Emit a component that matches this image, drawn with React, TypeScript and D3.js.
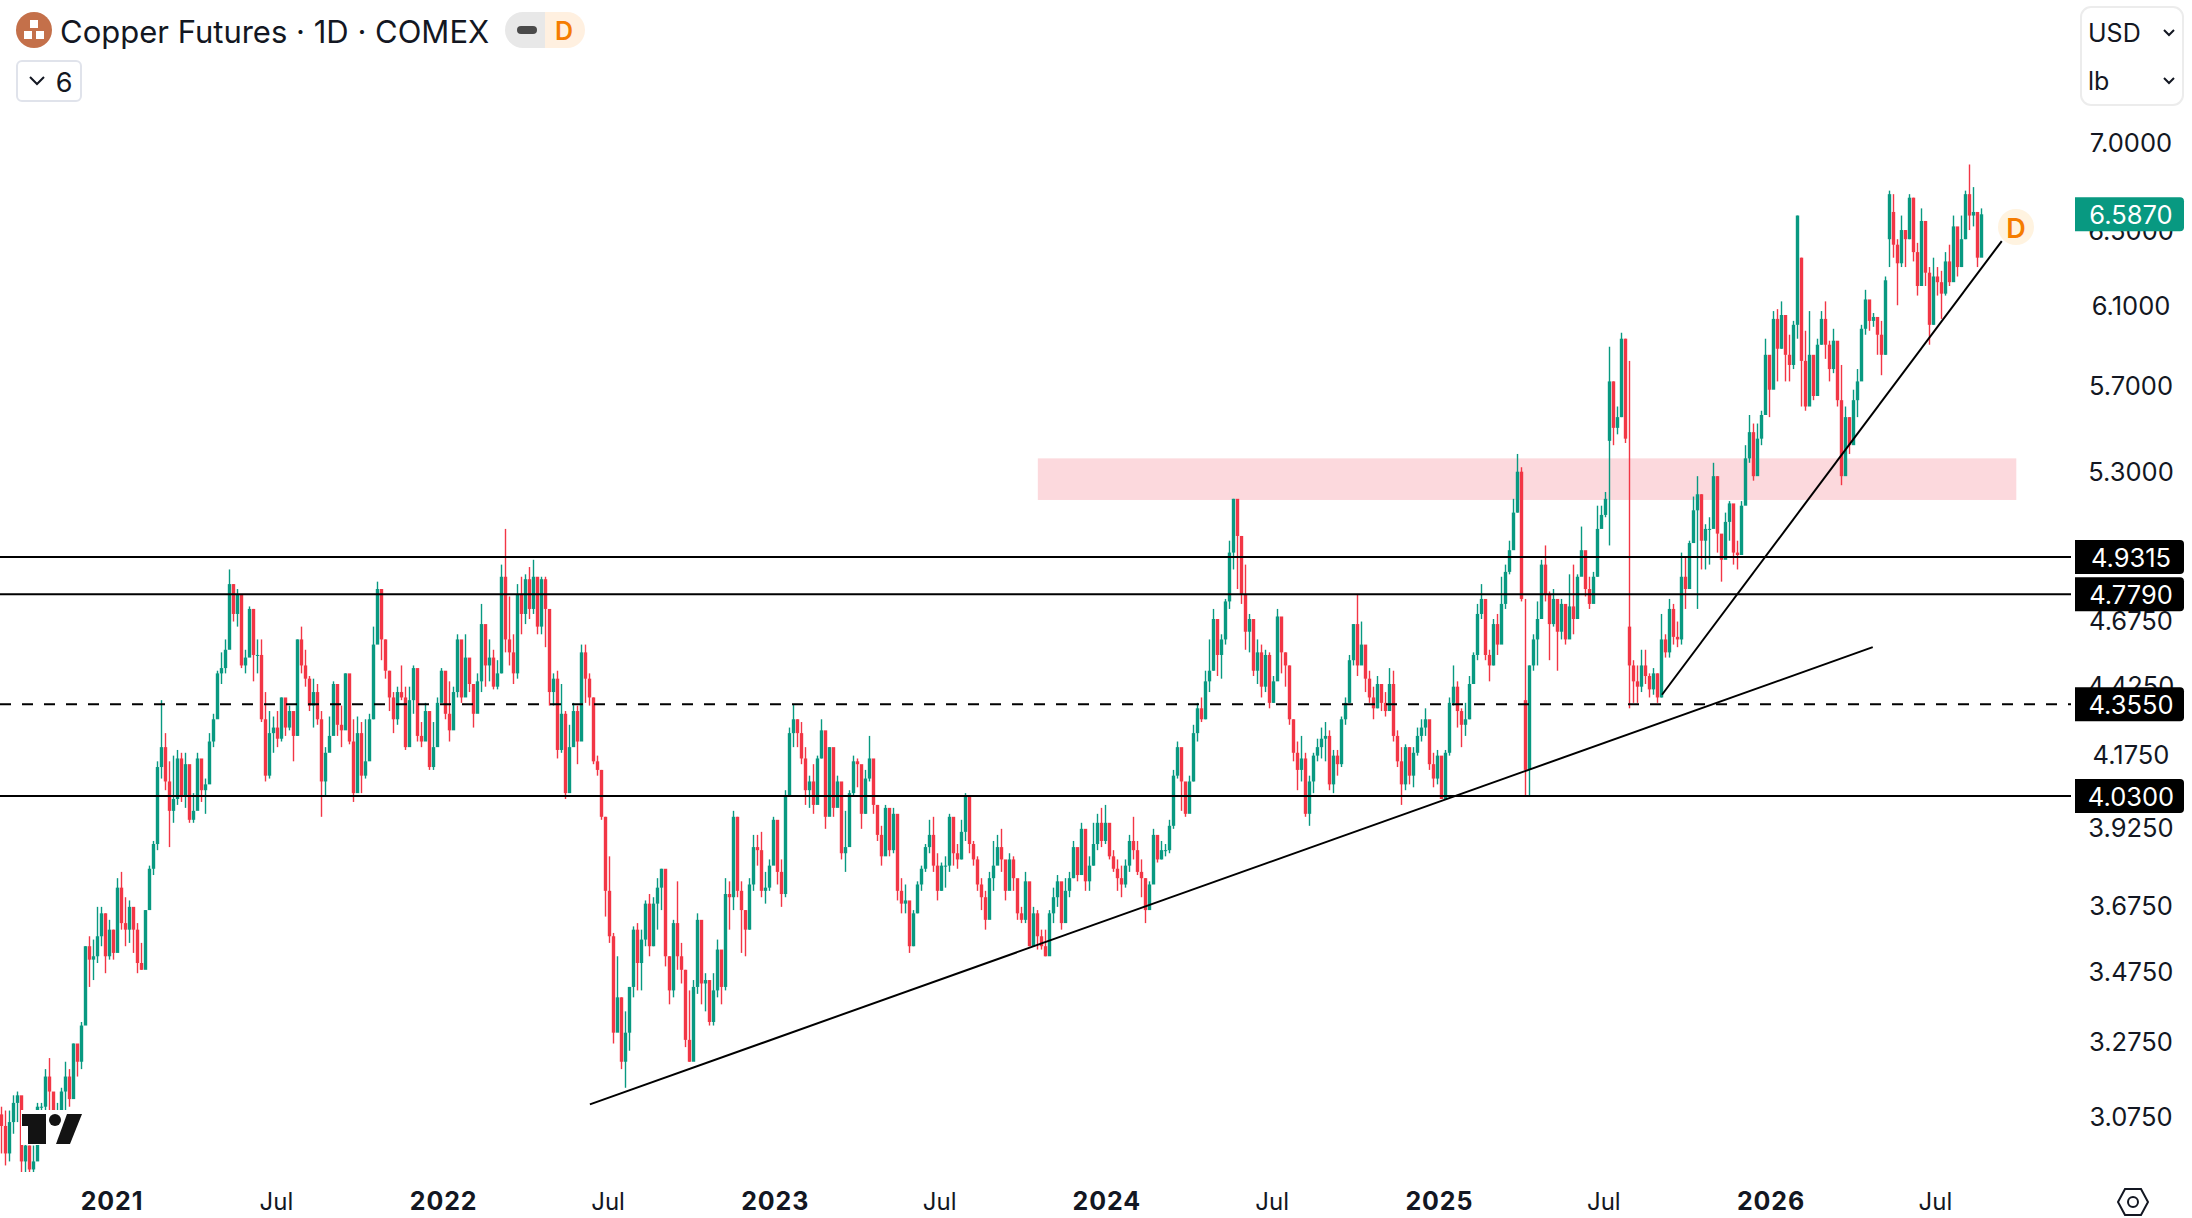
import React from "react";
import * as d3 from "d3";

const closes = [
  3.05,2.98,3.06,3.11,3.13,2.96,3.0,2.94,2.96,3.1,
  3.1,3.18,3.14,3.09,3.09,3.14,3.18,3.12,3.27,3.22,
  3.32,3.55,3.51,3.52,3.58,3.65,3.52,3.6,3.53,3.73,
  3.62,3.6,3.67,3.6,3.5,3.48,3.66,3.79,3.87,4.13,
  4.2,4.08,3.98,4.02,4.16,4.03,4.14,3.95,3.98,4.16,
  4.05,4.07,4.22,4.3,4.47,4.49,4.56,4.82,4.7,4.78,
  4.5,4.53,4.72,4.54,4.54,4.3,4.1,4.25,4.27,4.23,
  4.38,4.27,4.33,4.24,4.6,4.5,4.45,4.35,4.4,4.3,
  4.08,4.18,4.24,4.43,4.28,4.26,4.47,4.22,4.04,4.25,
  4.1,4.15,4.3,4.58,4.8,4.6,4.48,4.38,4.3,4.4,

  4.38,4.2,4.37,4.49,4.24,4.22,4.33,4.13,4.2,4.36,
  4.48,4.32,4.26,4.4,4.6,4.38,4.53,4.43,4.32,4.44,
  4.66,4.5,4.53,4.42,4.47,4.85,4.6,4.55,4.47,4.78,
  4.7,4.84,4.72,4.85,4.65,4.84,4.72,4.4,4.45,4.19,
  4.32,4.04,4.2,4.33,4.22,4.55,4.45,4.38,4.15,4.12,
  3.96,3.72,3.58,3.3,3.4,3.22,3.3,3.43,3.6,3.5,
  3.57,3.68,3.55,3.68,3.73,3.79,3.52,3.42,3.62,3.52,
  3.48,3.28,3.22,3.43,3.63,3.44,3.45,3.33,3.42,3.54,
  3.43,3.71,3.7,3.96,3.72,3.66,3.6,3.74,3.86,3.85,
  3.72,3.73,3.8,3.95,3.78,3.71,4.03,4.25,4.3,4.25,

  4.16,4.05,4.08,4.0,4.16,4.26,3.96,4.2,3.99,4.08,
  3.84,3.86,4.04,4.15,4.14,3.97,4.09,4.16,4.0,3.9,
  3.83,3.99,3.85,3.97,3.72,3.68,3.69,3.55,3.65,3.74,
  3.79,3.86,3.9,3.8,3.72,3.8,3.8,3.96,3.84,3.82,
  3.91,4.03,3.87,3.82,3.74,3.7,3.63,3.76,3.8,3.86,
  3.82,3.72,3.82,3.76,3.65,3.63,3.75,3.55,3.65,3.58,
  3.55,3.52,3.65,3.7,3.75,3.62,3.72,3.76,3.86,3.77,
  3.92,3.75,3.8,3.87,3.94,3.88,3.94,3.83,3.79,3.76,
  3.74,3.8,3.88,3.85,3.78,3.76,3.66,3.74,3.9,3.82,
  3.85,3.85,3.93,4.1,4.2,4.08,3.97,4.08,4.25,4.34,

  4.3,4.44,4.48,4.68,4.54,4.6,4.75,4.95,5.18,5.02,
  4.78,4.63,4.68,4.48,4.55,4.42,4.54,4.36,4.44,4.69,
  4.55,4.5,4.3,4.18,4.12,4.16,3.97,4.08,4.17,4.2,
  4.23,4.24,4.07,4.17,4.14,4.3,4.36,4.52,4.66,4.5,
  4.58,4.45,4.38,4.34,4.43,4.36,4.33,4.43,4.24,4.15,
  4.07,4.2,4.1,4.18,4.24,4.27,4.3,4.14,4.09,4.17,
  4.02,4.18,4.36,4.42,4.33,4.28,4.3,4.43,4.54,4.7,
  4.76,4.54,4.5,4.66,4.58,4.74,4.87,4.96,5.12,5.3,
  4.76,4.12,4.5,4.6,4.68,4.9,4.78,4.66,4.76,4.63,
  4.74,4.6,4.73,4.68,4.85,4.96,4.8,4.74,4.85,5.05,

  5.11,5.18,5.72,5.5,5.55,5.93,5.45,4.5,4.44,4.42,
  4.5,4.46,4.41,4.47,4.38,4.6,4.55,4.72,4.61,4.6,
  4.85,4.8,4.99,5.13,5.2,5.0,5.05,5.05,5.28,5.03,
  4.92,5.08,5.16,4.95,4.94,5.15,5.36,5.48,5.28,5.45,
  5.56,5.85,5.68,6.03,5.88,6.05,5.85,5.8,6.0,6.58,
  5.82,5.6,5.85,5.65,5.9,6.03,5.9,5.78,5.92,5.63,
  5.28,5.55,5.42,5.63,5.72,5.98,6.13,6.02,6.04,5.95,
  5.85,6.23,6.7,6.42,6.32,6.5,6.45,6.68,6.38,6.2,
  6.55,6.27,6.0,6.25,6.22,6.16,6.33,6.22,6.52,6.3,
  6.45,6.7,6.58,6.6,6.35,6.587,
];

const highs = [
  3.1,3.09,3.09,3.13,3.14,3.05,3.04,3.0,3.0,3.11,
  3.11,3.2,3.23,3.13,3.11,3.15,3.22,3.2,3.27,3.24,
  3.33,3.55,3.58,3.57,3.67,3.67,3.65,3.63,3.6,3.76,
  3.78,3.7,3.69,3.66,3.62,3.56,3.66,3.8,3.88,4.15,
  4.37,4.25,4.15,4.17,4.19,4.18,4.18,4.05,4.04,4.18,
  4.12,4.09,4.25,4.32,4.48,4.55,4.6,4.88,4.82,4.8,
  4.75,4.56,4.73,4.72,4.6,4.6,4.4,4.33,4.31,4.33,
  4.38,4.36,4.35,4.32,4.6,4.65,4.56,4.46,4.45,4.43,
  4.33,4.2,4.31,4.44,4.38,4.35,4.47,4.43,4.3,4.31,
  4.29,4.3,4.32,4.65,4.83,4.8,4.6,4.48,4.4,4.42,

  4.5,4.42,4.42,4.5,4.37,4.29,4.36,4.3,4.29,4.38,
  4.49,4.46,4.44,4.42,4.62,4.55,4.62,4.52,4.42,4.47,
  4.74,4.6,4.6,4.56,4.52,4.9,5.05,4.77,4.62,4.82,
  4.85,4.86,4.89,4.92,4.78,4.85,4.85,4.6,4.47,4.48,
  4.43,4.33,4.28,4.36,4.35,4.58,4.58,4.47,4.38,4.17,
  4.12,3.96,3.83,3.59,3.52,3.4,3.36,3.43,3.61,3.62,
  3.6,3.69,3.71,3.7,3.76,3.79,3.68,3.52,3.63,3.75,
  3.56,3.48,3.42,3.45,3.65,3.5,3.47,3.45,3.47,3.57,
  3.53,3.76,3.75,3.98,3.96,3.75,3.66,3.76,3.9,3.9,
  3.91,3.78,3.82,3.96,3.85,3.82,4.05,4.27,4.355,4.3,

  4.29,4.2,4.1,4.14,4.17,4.3,4.2,4.2,4.14,4.1,
  4.06,3.98,4.05,4.17,4.16,4.11,4.12,4.24,4.12,4.0,
  3.93,4.0,3.98,3.99,3.87,3.76,3.74,3.68,3.66,3.75,
  3.8,3.87,3.95,3.96,3.84,3.81,3.83,3.97,3.95,3.87,
  3.95,4.04,4.03,3.88,3.83,3.76,3.72,3.78,3.88,3.9,
  3.92,3.8,3.84,3.83,3.75,3.67,3.78,3.72,3.67,3.66,
  3.6,3.6,3.66,3.73,3.77,3.72,3.76,3.78,3.88,3.85,
  3.94,3.9,3.83,3.94,3.97,3.99,4.0,3.93,3.85,3.82,
  3.8,3.82,3.9,3.96,3.88,3.82,3.76,3.75,3.92,3.89,
  3.88,3.87,3.95,4.12,4.22,4.18,4.05,4.1,4.28,4.36,

  4.38,4.48,4.6,4.72,4.6,4.62,4.76,5.0,5.18,5.17,
  5.02,4.9,4.7,4.68,4.6,4.58,4.56,4.55,4.46,4.72,
  4.67,4.55,4.5,4.3,4.22,4.24,4.18,4.1,4.18,4.23,
  4.27,4.29,4.26,4.19,4.19,4.31,4.38,4.54,4.66,4.78,
  4.67,4.55,4.48,4.42,4.46,4.42,4.4,4.49,4.48,4.26,
  4.2,4.21,4.2,4.2,4.27,4.3,4.34,4.25,4.18,4.19,
  4.14,4.19,4.38,4.5,4.44,4.34,4.36,4.46,4.55,4.74,
  4.82,4.63,4.56,4.68,4.7,4.85,4.9,5.0,5.18,5.38,
  5.32,4.76,4.5,4.62,4.75,4.92,4.98,4.79,4.8,4.74,
  4.76,4.7,4.86,4.9,4.86,5.06,4.93,4.85,4.87,5.15,

  5.15,5.21,5.89,5.72,5.6,5.96,5.93,5.82,4.52,4.5,
  4.56,4.56,4.47,4.49,4.47,4.7,4.62,4.76,4.74,4.67,
  4.95,4.93,5.0,5.19,5.28,5.2,5.07,5.1,5.34,5.28,
  5.02,5.12,5.17,5.05,5.0,5.17,5.42,5.56,5.52,5.52,
  5.58,5.93,5.8,6.07,6.08,6.12,6.05,5.95,6.02,6.58,
  6.35,5.97,6.07,5.83,5.93,6.07,6.12,5.92,5.98,5.86,
  5.8,5.6,5.55,5.68,5.78,6.0,6.18,6.12,6.06,6.03,
  6.02,6.25,6.72,6.7,6.45,6.58,6.5,6.7,6.68,6.43,
  6.62,6.55,6.3,6.35,6.3,6.28,6.38,6.42,6.58,6.5,
  6.58,6.72,6.87,6.74,6.6,6.62,
];

const lows = [
  2.98,2.95,2.96,3.03,3.06,2.93,2.92,2.93,2.93,3.08,
  3.09,3.09,3.09,3.08,3.08,3.09,3.09,3.1,3.14,3.18,
  3.2,3.4,3.43,3.45,3.5,3.55,3.47,3.51,3.51,3.56,
  3.6,3.55,3.56,3.53,3.47,3.48,3.52,3.68,3.77,3.85,
  4.09,4.05,3.86,3.94,4.0,4.01,3.99,3.94,3.94,4.0,
  4.01,3.97,4.12,4.2,4.33,4.43,4.47,4.7,4.67,4.65,
  4.49,4.47,4.6,4.44,4.47,4.29,4.08,4.09,4.18,4.2,
  4.22,4.24,4.26,4.15,4.24,4.47,4.42,4.33,4.27,4.28,
  3.96,4.03,4.2,4.3,4.24,4.2,4.3,4.21,4.01,4.15,
  4.04,4.09,4.17,4.3,4.6,4.52,4.45,4.33,4.25,4.28,

  4.37,4.19,4.24,4.32,4.22,4.2,4.24,4.12,4.12,4.29,
  4.38,4.3,4.22,4.36,4.38,4.36,4.47,4.4,4.27,4.33,
  4.4,4.42,4.44,4.41,4.41,4.47,4.55,4.5,4.43,4.45,
  4.62,4.66,4.68,4.7,4.62,4.62,4.57,4.35,4.35,4.16,
  4.18,4.02,4.05,4.22,4.14,4.25,4.36,4.35,4.14,4.1,
  3.95,3.64,3.56,3.27,3.37,3.2,3.15,3.25,3.4,3.42,
  3.42,3.55,3.52,3.55,3.6,3.66,3.49,3.38,3.4,3.48,
  3.44,3.26,3.22,3.25,3.41,3.38,3.36,3.32,3.32,3.4,
  3.38,3.42,3.6,3.66,3.7,3.53,3.52,3.6,3.72,3.8,
  3.7,3.68,3.72,3.82,3.74,3.67,3.7,4.03,4.2,4.2,

  4.14,4.0,3.99,3.97,4.03,4.16,3.92,3.98,3.96,4.0,
  3.82,3.78,3.94,4.03,4.06,3.92,3.97,4.08,3.97,3.88,
  3.8,3.84,3.83,3.84,3.69,3.65,3.65,3.53,3.55,3.65,
  3.72,3.78,3.84,3.78,3.69,3.72,3.73,3.78,3.8,3.79,
  3.82,3.88,3.84,3.8,3.72,3.66,3.6,3.68,3.72,3.82,
  3.78,3.69,3.78,3.72,3.63,3.62,3.62,3.55,3.55,3.54,
  3.54,3.52,3.58,3.62,3.67,3.6,3.66,3.7,3.76,3.75,
  3.77,3.72,3.72,3.8,3.85,3.86,3.87,3.82,3.78,3.72,
  3.7,3.73,3.78,3.82,3.77,3.7,3.62,3.68,3.75,3.81,
  3.82,3.83,3.84,3.92,4.09,3.98,3.96,4.0,4.08,4.22,

  4.29,4.3,4.4,4.48,4.46,4.45,4.58,4.72,4.88,4.8,
  4.74,4.56,4.55,4.46,4.43,4.38,4.4,4.34,4.36,4.52,
  4.47,4.42,4.28,4.15,4.05,4.08,3.96,3.93,4.04,4.15,
  4.16,4.15,4.05,4.04,4.1,4.13,4.28,4.36,4.5,4.46,
  4.52,4.4,4.36,4.3,4.34,4.33,4.31,4.34,4.22,4.13,
  4.0,4.05,4.07,4.06,4.17,4.22,4.24,4.12,4.06,4.07,
  4.02,4.03,4.17,4.35,4.27,4.2,4.24,4.3,4.43,4.52,
  4.68,4.52,4.44,4.5,4.54,4.65,4.72,4.86,5.02,5.12,
  4.75,4.03,4.03,4.48,4.5,4.68,4.75,4.52,4.65,4.48,
  4.6,4.58,4.68,4.62,4.68,4.88,4.77,4.72,4.78,4.85,

  5.07,5.1,4.98,5.42,5.47,5.55,5.43,4.34,4.36,4.36,
  4.4,4.43,4.38,4.39,4.36,4.38,4.53,4.53,4.58,4.57,
  4.58,4.72,4.82,5.0,4.72,4.88,4.88,4.9,5.12,4.95,
  4.83,4.95,5.0,4.9,4.88,5.03,5.2,5.34,5.26,5.37,
  5.42,5.6,5.55,5.7,5.72,5.88,5.72,5.72,5.78,5.93,
  5.6,5.58,5.8,5.63,5.72,5.9,5.83,5.72,5.76,5.6,
  5.24,5.42,5.38,5.45,5.55,5.75,5.95,5.97,5.99,5.85,
  5.75,5.85,6.3,6.35,6.1,6.3,6.3,6.45,6.33,6.15,
  6.45,6.2,5.9,6.0,6.15,6.03,6.15,6.2,6.27,6.25,
  6.3,6.45,6.5,6.52,6.3,6.45,
];

// opens follow the previous close, apart from these gap bars
const firstOpen = 3.08;
const gapBars = [381, 402, 407, 450, 472, 473];
const gapOpens = [4.37, 5.44, 4.65, 6.35, 6.45, 6.6];

const priceTicks = [7, 6.5, 6.1, 5.7, 5.3, 4.675, 4.425, 4.175, 3.925, 3.675, 3.475, 3.275, 3.075];
const solidLevels = [4.9315, 4.779, 4.03];
const dashedLevels = [4.355];
const lastPrice = 6.587;

const timeTicks = [
  ["2021-01-01", "2021", true], ["2021-07-01", "Jul", false],
  ["2022-01-01", "2022", true], ["2022-07-01", "Jul", false],
  ["2023-01-01", "2023", true], ["2023-07-01", "Jul", false],
  ["2024-01-01", "2024", true], ["2024-07-01", "Jul", false],
  ["2025-01-01", "2025", true], ["2025-07-01", "Jul", false],
  ["2026-01-01", "2026", true], ["2026-07-01", "Jul", false],
] as [string, string, boolean][];

const trendFrom = [["2022-06-11", 3.106], ["2025-09-03", 4.39]] as [string, number][];
const trendTo = [["2026-04-23", 4.57], ["2026-09-12", 6.44]] as [string, number][];
const zoneDates = ["2023-10-17", "2026-09-28"];
const zonePrices = [5.36, 5.175];

const GREEN = "#089981";
const RED = "#f23645";
const INK = "#131722";
const FONT = "Inter, sans-serif";

const day = (s: string) => new Date(s + "T00:00:00Z");

export default function App() {
  const width = 2192;
  const height = 1218;
  const paneRight = 2071;
  const paneBottom = 1172;

  const y = d3.scaleLog().domain([7, 3.075]).range([142.3, 1116.3]);
  const xTime = d3.scaleUtc().domain([day("2021-01-01"), day("2026-01-01")]).range([112, 1771]);
  const xBar = d3.scaleLinear().domain([0, closes.length - 1]).range([1.5, 1981.5]);

  const bars = closes.map((c, i) => {
    const g = gapBars.indexOf(i);
    const o = g >= 0 ? gapOpens[g] : i === 0 ? firstOpen : closes[i - 1];
    return { i, o, c, h: highs[i], l: lows[i] };
  });

  const labelBox = (price: number, fill: string, text: string) => (
    <g key={text}>
      <path
        d={`M2075,${y(price) - 17}H2180a4,4 0 0 1 4,4V${y(price) + 13}a4,4 0 0 1 -4,4H2075Z`}
        fill={fill}
      />
      <text x={2131} y={y(price)} textAnchor="middle" dominantBaseline="central" fontSize={25.5} fill="#fff">
        {text}
      </text>
    </g>
  );

  return (
    <svg
      width={width}
      height={height}
      style={{ position: "absolute", left: 0, top: 0, display: "block", background: "#fff" }}
      fontFamily={FONT}
    >
      <defs>
        <clipPath id="pane">
          <rect x={0} y={0} width={paneRight} height={paneBottom} />
        </clipPath>
      </defs>

      <g clipPath="url(#pane)">
        <rect
          x={xTime(day(zoneDates[0]))}
          y={y(zonePrices[0])}
          width={xTime(day(zoneDates[1])) - xTime(day(zoneDates[0]))}
          height={y(zonePrices[1]) - y(zonePrices[0])}
          fill="#fcd9dd"
        />
        {bars.map((b) => {
          const color = b.c >= b.o ? GREEN : RED;
          const top = y(Math.max(b.o, b.c));
          const bottom = y(Math.min(b.o, b.c));
          const cx = xBar(b.i);
          return (
            <g key={b.i} fill={color}>
              <rect x={cx - 0.7} y={y(b.h)} width={1.4} height={y(b.l) - y(b.h)} />
              <rect x={cx - 1.7} y={top} width={3.4} height={Math.max(bottom - top, 1)} />
            </g>
          );
        })}
        {solidLevels.map((p) => (
          <line key={p} x1={0} x2={paneRight} y1={y(p)} y2={y(p)} stroke="#000" strokeWidth={2} />
        ))}
        {dashedLevels.map((p) => (
          <line key={p} x1={0} x2={paneRight} y1={y(p)} y2={y(p)} stroke="#000" strokeWidth={2} strokeDasharray="11 11" />
        ))}
        {trendFrom.map((from, i) => (
          <line
            key={i}
            x1={xTime(day(from[0]))}
            y1={y(from[1])}
            x2={xTime(day(trendTo[i][0]))}
            y2={y(trendTo[i][1])}
            stroke="#000"
            strokeWidth={2}
          />
        ))}
      </g>

      {/* watermark sits on a white patch over the bars */}
      <g>
        <rect x={21} y={1110} width={63} height={35} fill="#fff" />
        <path d="M22,1114H46V1144H28V1126H22Z" fill="#131313" />
        <circle cx={55} cy={1120} r={6} fill="#131313" />
        <path d="M67,1114H82L70,1144H56Z" fill="#131313" />
      </g>

      {/* D marker at the end of the series */}
      <circle cx={2016} cy={227} r={18} fill="#fff3e0" />
      <text x={2016} y={228} textAnchor="middle" dominantBaseline="central" fontSize={27} fontWeight={600} fill="#f57c00">
        D
      </text>

      {priceTicks.map((p) => (
        <text key={p} x={2131} y={y(p)} textAnchor="middle" dominantBaseline="central" fontSize={25.5} fill={INK}>
          {p.toFixed(4)}
        </text>
      ))}
      {labelBox(lastPrice, GREEN, lastPrice.toFixed(4))}
      {[...solidLevels, ...dashedLevels].map((p) => labelBox(p, "#000", p.toFixed(4)))}

      {timeTicks.map(([d, label, major]) => (
        <text
          key={d}
          x={xTime(day(d))}
          y={1201}
          textAnchor="middle"
          dominantBaseline="central"
          fontSize={major ? 25 : 24}
          fontWeight={major ? 700 : 400}
          letterSpacing={major ? 0.9 : 0}
          fill={INK}
        >
          {label}
        </text>
      ))}

      {/* settings hexagon */}
      <path d="M2118,1202L2125,1189H2141L2148,1202L2141,1215H2125Z" fill="none" stroke={INK} strokeWidth={2} />
      <circle cx={2133} cy={1202} r={5} fill="none" stroke={INK} strokeWidth={2} />

      {/* header */}
      <circle cx={34} cy={30} r={18} fill="#c4704a" />
      <rect x={30} y={20} width={8} height={8} fill="#fff" />
      <rect x={24} y={31} width={8} height={8} fill="#fff" />
      <rect x={36} y={31} width={8} height={8} fill="#fff" />
      <text x={60} y={31} dominantBaseline="central" fontSize={31} fill={INK}>
        Copper Futures · 1D · COMEX
      </text>
      <path d="M545,12H523a18,18 0 0 0 0,36H545Z" fill="#e8e8e8" />
      <path d="M545,12H567a18,18 0 0 1 0,36H545Z" fill="#fff0e0" />
      <rect x={517} y={26} width={20} height={8} rx={4} fill="#4a4a4a" />
      <text x={564} y={31} textAnchor="middle" dominantBaseline="central" fontSize={25} fontWeight={600} fill="#f57c00">
        D
      </text>
      <rect x={17} y={61} width={64} height={40} rx={5} fill="#fff" stroke="#e0e3eb" strokeWidth={2} />
      <path d="M30,77L37,84L44,77" fill="none" stroke={INK} strokeWidth={2} />
      <text x={64} y={82} textAnchor="middle" dominantBaseline="central" fontSize={27} fill={INK}>
        6
      </text>

      {/* currency and unit box */}
      <rect x={2081} y={7} width={102} height={98} rx={10} fill="#fff" stroke="#ececec" strokeWidth={2} />
      <text x={2088} y={33} dominantBaseline="central" fontSize={25} fill={INK}>USD</text>
      <text x={2088} y={81} dominantBaseline="central" fontSize={25} fill={INK}>lb</text>
      <path d="M2164,30L2169,35L2174,30" fill="none" stroke={INK} strokeWidth={2} />
      <path d="M2164,78L2169,83L2174,78" fill="none" stroke={INK} strokeWidth={2} />
    </svg>
  );
}
